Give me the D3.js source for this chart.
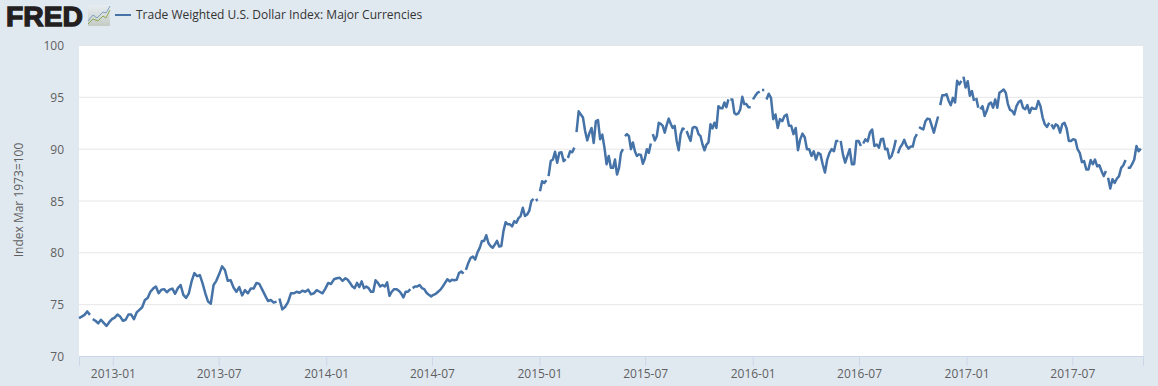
<!DOCTYPE html>
<html><head><meta charset="utf-8">
<script src="https://cdn.jsdelivr.net/npm/d3@7/dist/d3.min.js"></script>
<style>
html,body{margin:0;padding:0;background:#e1e9f0;}
svg{display:block;}
text{font-family:"Open Sans",sans-serif;}
</style></head><body>
<svg id="c" width="1158" height="386"></svg>
<script>
const seriesName = "Trade Weighted U.S. Dollar Index: Major Currencies";
const yAxisTitle = "Index Mar 1973=100";
const yTicks = [70,75,80,85,90,95,100];
const xTickLabels = ["2013-01","2013-07","2014-01","2014-07","2015-01","2015-07","2016-01","2016-07","2017-01","2017-07"];
const sectionDates = ["2012-11-04","2013-06-27","2014-02-03","2014-09-21","2015-05-07","2015-12-21","2016-08-04","2017-03-20","2017-10-30"];

const values1 = [73.65,73.8,73.97,74.3,73.97,null,73.55,73.4,73.15,73.5,73.2,72.9,73.26,73.55,73.7,74.0,73.8,73.4,73.5,74.0,74.0,73.55,74.2,74.45,74.7,75.4,75.6,76.2,76.5,76.7,76.05,76.4,76.45,76.15,76.4,76.5,76.0,76.55,76.85,75.9,75.6,76.05,77.2,78.0,77.7,77.8,77.0,76.05,75.25,75.05,76.85];
const values2 = [77.25,77.9,78.65,78.3,77.25,77.3,76.6,76.2,76.65,75.85,76.35,76.05,76.5,76.5,77.05,76.95,76.4,75.85,75.3,75.4,75.15,75.25,null,75.55,74.5,74.75,75.2,76.05,76.05,76.2,76.1,76.3,76.2,76.4,75.95,76.05,76.35,76.2,76.05,76.5,77.05,76.95,77.4,77.5,77.55,77.25];
const values3 = [77.5,77.35,77.05,76.7,76.55,77.05,76.65,77.2,76.55,76.7,76.55,76.2,76.2,77.3,77.05,76.7,76.85,76.7,77.1,75.8,76.2,76.45,76.45,76.3,76.05,75.65,76.2,76.2,76.45,null,76.55,76.7,76.7,76.85,76.55,76.45,76.1,75.9,75.75,75.9,76.0,76.2,76.4,76.7,77.05,77.4,77.2,77.35,77.3,77.35,78.0,78.15,77.95,null,78.3,78.95,79.45,79.6,79.3,80.0];
const values4 = [80.45,81.1,81.1,81.65,80.9,80.6,80.45,80.75,81.1,80.55,80.6,82.05,82.9,82.7,82.7,82.5,83.0,82.85,83.3,83.5,84.3,83.5,83.65,84.0,84.95,85.15,null,85.0,85.1,null,85.9,86.85,86.7,86.95,null,87.35,88.8,88.95,89.7,88.65,89.6,89.65,88.8,89.0,null,89.1,89.75,89.65,90.1,null,91.6,93.6,93.3,93.0,91.7,90.8,91.5,92.0,90.55,92.65,92.75,90.9,91.35,90.1,88.5,89.3,88.15];
const values5 = [88.15,88.95,87.5,88.15,89.6,89.95,null,91.2,91.4,91.2,89.95,90.6,89.75,89.3,89.45,89.4,88.55,89.05,89.95,89.6,90.5,null,91.4,90.8,91.2,92.5,92.4,92.2,91.55,92.3,92.9,92.4,92.0,92.2,90.75,89.85,91.4,91.95,91.85,null,91.7,91.2,90.75,92.0,92.1,92.0,91.4,91.2,90.4,89.85,90.4,90.6,92.35,91.95,92.5,92.0,94.1,93.9,93.9,94.45,94.0,94.75,null,94.75,94.75,93.45,93.3,93.4,93.8,95.0,94.3];
const values6 = [94.3,94.0,94.0,null,94.75,95.1,95.4,95.5,null,95.65,95.65,null,94.75,95.3,94.9,92.85,93.3,92.0,92.85,92.65,93.15,93.3,92.2,92.2,91.4,92.0,89.85,90.9,91.45,91.1,89.95,89.95,89.3,89.75,88.95,89.6,89.45,88.5,87.7,88.95,89.6,89.95,89.75,90.75,90.75,null,90.75,89.45,88.65,89.3,89.95,88.5,88.5,90.75,90.75,90.25,null,90.5,90.9,90.7,91.55,91.85,90.25,90.4];
const values7 = [90.1,90.9,90.95,89.95,90.0,89.05,89.3,89.95,90.85,null,89.55,90.1,90.4,90.85,90.3,90.0,90.2,90.2,91.05,91.4,null,92.1,91.95,91.85,92.65,92.9,92.85,92.2,91.55,92.35,93.1,null,94.2,95.15,95.15,95.25,94.6,94.2,94.9,94.45,96.55,96.2,96.55,null,96.95,95.9,96.5,95.1,95.55,94.6,null,94.9,93.95,null,93.8,94.1,93.15,93.65,94.3,94.45,93.95,94.75,93.95,95.4,95.55,95.7,95.4,94.3,93.75];
const values8 = [93.65,93.3,94.1,94.5,94.65,93.95,93.8,94.2,93.45,93.95,93.85,93.85,94.6,94.1,93.0,92.35,92.1,92.5,null,92.35,91.95,92.35,92.2,91.55,92.35,92.5,91.95,90.75,90.75,90.9,90.85,89.95,89.6,88.7,88.8,88.0,88.0,88.9,88.5,88.95,88.3,88.4,87.85,87.35,87.85,null,87.2,86.15,87.05,86.7,87.1,87.35,88.15,88.4,88.9,null,88.15,88.15,88.5,88.95,90.25,89.75,90.0];
const sections = [values1,values2,values3,values4,values5,values6,values7,values8];

const parse = d3.utcParse("%Y-%m-%d");
const W=1158,H=386,L=79,R=1143,T=45,B=356;
const svg = d3.select("#c");
svg.append("rect").attr("width",W).attr("height",H).attr("fill","#e1e9f0");
svg.append("rect").attr("x",L).attr("y",T).attr("width",R-L).attr("height",B-T).attr("fill","#fff");

const x = d3.scaleUtc().domain([parse(sectionDates[0]),parse(sectionDates[sectionDates.length-1])]).range([L,R]);
const y = d3.scaleLinear().domain([70,100]).range([B,T]);

// a null is a missing-data break: it takes no time slot of its own
const data = [];
sections.forEach((vals,i)=>{
  const a=+parse(sectionDates[i]), b=+parse(sectionDates[i+1]);
  const n=vals.filter(v=>v!==null).length;
  let k=0;
  vals.forEach(v=>{
    data.push({date:new Date(a+(b-a)*k/n),value:v});
    if(v!==null) k++;
  });
});

// horizontal grid + y labels
const yAxis = svg.append("g").attr("transform",`translate(${L},0)`)
  .call(d3.axisLeft(y).tickValues(yTicks).tickSize(-(R-L)).tickPadding(15).tickFormat(d3.format("d")));
yAxis.select(".domain").remove();
yAxis.selectAll(".tick line").attr("stroke","#e6e6e6");
yAxis.selectAll(".tick").filter(d=>d===70).select("line").remove();
yAxis.selectAll("text").attr("fill","#606060").attr("y",0.8).style("font-size","12px");

// x axis
const xAxis = svg.append("g").attr("transform",`translate(0,${B})`)
  .call(d3.axisBottom(x).tickValues(xTickLabels.map(s=>parse(s+"-01"))).tickSize(10).tickPadding(3).tickFormat(d3.utcFormat("%Y-%m")));
xAxis.select(".domain").attr("stroke","#ccd6eb");
xAxis.selectAll(".tick line").attr("stroke","#ccd6eb");
xAxis.selectAll("text").attr("fill","#606060").style("font-size","12px");

// y title
svg.append("text").attr("transform",`translate(23,200) rotate(-90)`).attr("text-anchor","middle")
  .attr("fill","#606060").style("font-size","12px").text(yAxisTitle);

// series
const line = d3.line().defined(d=>d.value!==null).x(d=>x(d.date)).y(d=>y(d.value));
svg.append("path").datum(data).attr("d",line).attr("fill","none").attr("stroke","#4572a7")
  .attr("stroke-width",2.5).attr("stroke-linejoin","round").attr("stroke-linecap","butt");

// legend
svg.append("line").attr("x1",115).attr("x2",131).attr("y1",15).attr("y2",15).attr("stroke","#4572a7").attr("stroke-width",2);
svg.append("text").attr("x",136).attr("y",19).attr("fill","#333").style("font-size","12px").text(seriesName);

// FRED logo
svg.append("text").attr("x",6).attr("y",25.5).attr("fill","#231f20").attr("stroke","#231f20").attr("stroke-width",1.3)
  .attr("textLength",77).attr("lengthAdjust","spacingAndGlyphs")
  .style("font-family","'Liberation Sans',sans-serif").style("font-weight","700").style("font-size","28px").text("FRED");
const defs = svg.append("defs").append("linearGradient").attr("id","ig").attr("x1",0).attr("x2",0).attr("y1",0).attr("y2",1);
defs.append("stop").attr("offset",0).attr("stop-color","#e8edf2");
defs.append("stop").attr("offset",1).attr("stop-color","#c4cbc4");
svg.append("rect").attr("x",88).attr("y",5).attr("width",22).attr("height",21).attr("fill","url(#ig)");
svg.append("path").attr("d","M88,21 L93,15 L97,18 L103,12 L106,13 L110,6").attr("fill","none").attr("stroke","#7f9fc0").attr("stroke-width",1);
svg.append("path").attr("d","M88,24 L93,19 L98,21 L103,16 L106,18 L110,10").attr("fill","none").attr("stroke","#8aa84e").attr("stroke-width",1);
</script>
</body></html>
